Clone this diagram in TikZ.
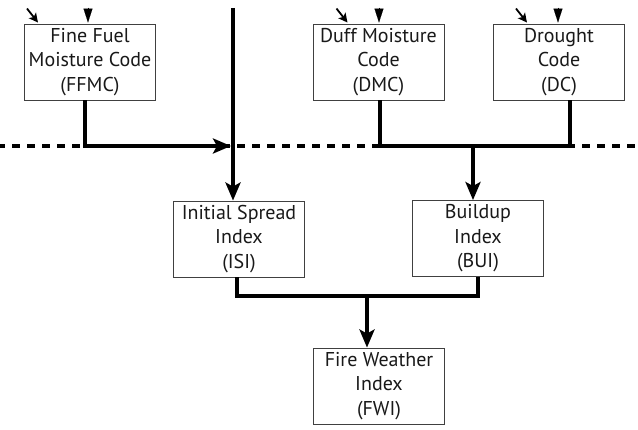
\documentclass[tikz,border=0pt]{standalone}
\usepackage{fontspec}
\setmainfont{PT Sans}
\usetikzlibrary{arrows.meta,calc}
\begin{document}
\begin{tikzpicture}[x=1pt,y=-1pt,
  box/.style={draw=black!75, line width=0.9pt, fill=white, minimum width=131pt, minimum height=76pt,
    inner sep=0pt, align=center, font=\fontsize{20}{24.5}\selectfont, text=black!90},
  flow/.style={line width=3.6pt},
  bigarrow/.style={flow, -{Stealth[length=18pt,width=15pt,inset=4pt]}},
  dashline/.style={line width=3.6pt, dash pattern=on 7.5pt off 7.5pt},
  tri/.style={line width=0.1pt, -{Triangle[length=14pt,width=9pt]}},
  diag/.style={line width=1.8pt, -{Stealth[length=9pt,width=9pt,inset=2pt]}}
]
\useasboundingbox (0,0) rectangle (638,430);

% dashed separator
\draw[dashline] (-3,146) -- (641,146);

% boxes
\node[box] (ffmc) at (90,62) {Fine Fuel\\Moisture Code\\(FFMC)};
\node[box] (dmc) at (378.5,62) {Duff Moisture\\Code\\(DMC)};
\node[box] (dc) at (559,62) {Drought\\Code\\(DC)};
\node[box] (isi) at (239,239) {Initial Spread\\Index\\(ISI)};
\node[box] (bui) at (478,238.5) {Buildup\\Index\\(BUI)};
\node[box] (fwi) at (379,386) {Fire Weather\\Index\\(FWI)};

% small input arrows at top
\foreach \b/\d/\t in {ffmc/-52/-2, dmc/-31/0.5, dc/-32/-1}{
  \draw[diag] ($(\b.north)+(\d-11,-15)$) -- ($(\b.north)+(\d,-1)$);
  \draw[tri] ($(\b.north)+(\t,-16)$) -- ($(\b.north)+(\t,-1)$);
}

% wind line
\coordinate (top) at (233,8);
\coordinate (j1) at (233,146);
\draw[bigarrow] (top) -- (isi.north -| top);
% FFMC to wind line
\draw[bigarrow] ([xshift=-5pt]ffmc.south) |- ([xshift=-2pt]j1);

% DMC and DC to BUI
\coordinate (j2) at (473,146);
\draw[flow] ([xshift=1.5pt]dmc.south) |- (j2) -| ([xshift=11pt]dc.south);
\draw[bigarrow] ([yshift=-1.5pt]j2) -- (bui.north -| j2);

% ISI and BUI to FWI
\coordinate (j3) at (367,296);
\draw[flow] ([xshift=-2pt]isi.south) |- (j3) -| (bui.south);
\draw[bigarrow] ([yshift=-1.5pt]j3) -- (fwi.north -| j3);
\end{tikzpicture}
\end{document}
